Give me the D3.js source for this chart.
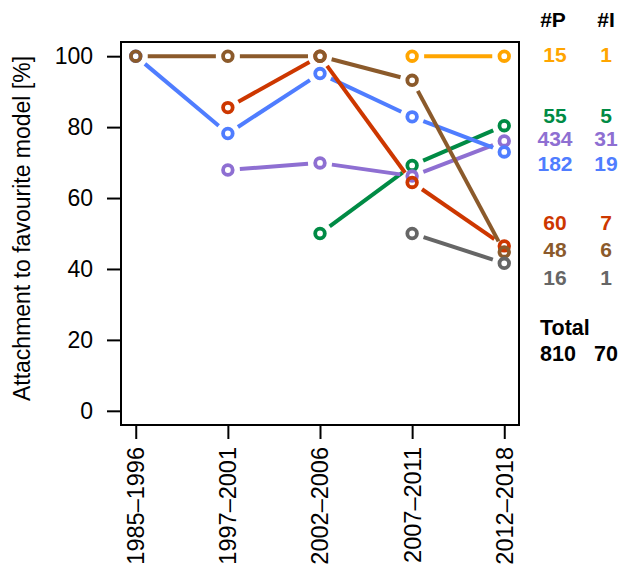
<!DOCTYPE html>
<html>
<head>
<meta charset="utf-8">
<script src="https://cdn.jsdelivr.net/npm/d3@7"></script>
<style>
  html, body { margin: 0; padding: 0; background: #fff; }
  svg { display: block; }
  text { font-family: "Liberation Sans", Arial, Helvetica, sans-serif; }
</style>
</head>
<body>
<svg id="chart" width="627" height="574"></svg>
<script>
// ---- data ----
const periods = ["1985\u20131996", "1997\u20132001", "2002\u20132006", "2007\u20132011", "2012\u20132018"];
const yTicks = [0, 20, 40, 60, 80, 100];

const seriesNames = ["green", "purple", "blue", "red", "brown", "gray", "orange"];
const greenValues  = [null, null, 50.0, 69.2, 80.4];
const purpleValues = [null, 67.9, 69.9, 66.2, 76.1];
const blueValues   = [100, 78.2, 95.1, 82.9, 73.0];
const redValues    = [null, 85.5, 100, 64.4, 46.5];
const brownValues  = [100, 100, 100, 93.2, 44.8];
const grayValues   = [null, null, null, 50.0, 41.6];
const orangeValues = [null, null, null, 100, 100];

// legend (top to bottom)
const legendSeries = ["orange", "green", "purple", "blue", "red", "brown", "gray"];
const legendP = [15, 55, 434, 182, 60, 48, 16];
const legendI = [1, 5, 31, 19, 7, 6, 1];
const totalP = 810, totalI = 70;

const yTitle = "Attachment to favourite model [%]";

// ---- styles ----
const colors = {
  orange: "#ffa500", green: "#008b45", purple: "#8e6fd2", blue: "#4f7dff",
  red: "#cd3700", brown: "#8b5a2b", gray: "#666666"
};
const valuesByName = {
  green: greenValues, purple: purpleValues, blue: blueValues, red: redValues,
  brown: brownValues, gray: grayValues, orange: orangeValues
};

const svg = d3.select("#chart");
const L = 121, R = 519, T = 42, B = 425;

const x = d3.scaleLinear().domain([0.84, 5.16]).range([L, R]);
const y = d3.scaleLinear().domain([-4, 104]).range([B, T]);

// axes
const yAxis = d3.axisLeft(y).tickValues(yTicks).tickSize(14).tickPadding(14);
const gy = svg.append("g").attr("transform", `translate(${L},0)`).call(yAxis);
gy.select(".domain").remove();
gy.selectAll("line").attr("stroke", "#000").attr("stroke-width", 2);
gy.selectAll("text").attr("font-size", 23).attr("fill", "#000")
  .attr("font-family", "'Liberation Sans', Arial, sans-serif");

const xAxis = d3.axisBottom(x).tickValues([1, 2, 3, 4, 5]).tickSize(14).tickFormat("");
const gx = svg.append("g").attr("transform", `translate(0,${B})`).call(xAxis);
gx.select(".domain").remove();
gx.selectAll("line").attr("stroke", "#000").attr("stroke-width", 2);

// rotated x labels
svg.append("g").selectAll("text").data(periods).join("text")
  .attr("transform", (d, i) => `translate(${x(i + 1)},447) rotate(-90)`)
  .attr("text-anchor", "end")
  .attr("dy", "0.36em")
  .attr("font-size", 23.5)
  .attr("fill", "#000")
  .text(d => d);

// y title
svg.append("text")
  .attr("transform", `translate(30,${(T + B) / 2 - 5}) rotate(-90)`)
  .attr("text-anchor", "middle")
  .attr("font-size", 23)
  .attr("fill", "#000")
  .text(yTitle);

// box
svg.append("rect").attr("x", L).attr("y", T).attr("width", R - L).attr("height", B - T)
  .attr("fill", "none").attr("stroke", "#000").attr("stroke-width", 2);

// series: type "b" -- segments with gaps around points
const gap = 12;
seriesNames.forEach(name => {
  const vals = valuesByName[name];
  const pts = vals.map((v, i) => v == null ? null : [x(i + 1), y(v)]);
  const g = svg.append("g");
  for (let i = 0; i < pts.length - 1; i++) {
    const a = pts[i], b = pts[i + 1];
    if (!a || !b) continue;
    const dx = b[0] - a[0], dy = b[1] - a[1];
    const len = Math.hypot(dx, dy);
    if (len <= 2 * gap) continue;
    const ux = dx / len, uy = dy / len;
    g.append("line")
      .attr("x1", a[0] + ux * gap).attr("y1", a[1] + uy * gap)
      .attr("x2", b[0] - ux * gap).attr("y2", b[1] - uy * gap)
      .attr("stroke", colors[name]).attr("stroke-width", 4);
  }
  g.selectAll("circle").data(pts.filter(p => p)).join("circle")
    .attr("cx", p => p[0]).attr("cy", p => p[1]).attr("r", 4.8)
    .attr("fill", "none").attr("stroke", colors[name]).attr("stroke-width", 3.8);
});

// legend
const colP = 555, colI = 606;
const lg = svg.append("g").attr("font-weight", "bold").attr("text-anchor", "middle");
lg.append("text").attr("x", colP - 2).attr("y", 27).attr("font-size", 21).text("#P");
lg.append("text").attr("x", colI).attr("y", 27).attr("font-size", 21).text("#I");
const rowY = [62, 123, 146, 171, 230, 257, 285];
legendSeries.forEach((name, i) => {
  lg.append("text").attr("x", colP).attr("y", rowY[i]).attr("font-size", 21)
    .attr("fill", colors[name]).text(legendP[i]);
  lg.append("text").attr("x", colI).attr("y", rowY[i]).attr("font-size", 21)
    .attr("fill", colors[name]).text(legendI[i]);
});
lg.append("text").attr("x", 540).attr("y", 335).attr("text-anchor", "start")
  .attr("font-size", 21.5).text("Total");
lg.append("text").attr("x", 540).attr("y", 361).attr("text-anchor", "start")
  .attr("font-size", 21.5).text(totalP);
lg.append("text").attr("x", colI).attr("y", 361)
  .attr("font-size", 21.5).text(totalI);
</script>
</body>
</html>
